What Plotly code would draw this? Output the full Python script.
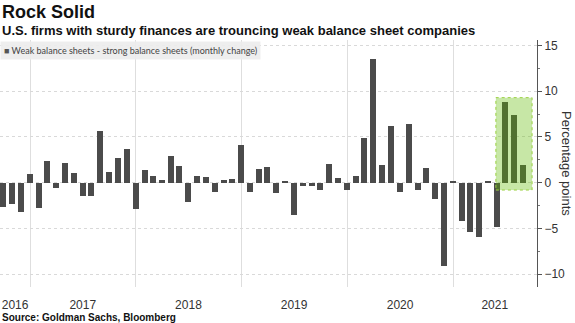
import plotly.graph_objects as go
import pandas as pd

# ---------------- data ----------------
months = pd.date_range("2016-10-01", periods=60, freq="MS")
values = [
    -2.6, -2.3, -3.2, 1.0, -2.8, 2.35, -0.6, 2.15, 1.1, -1.45, -1.5, 5.7,
    1.2, 2.7, 3.65, -2.9, 1.35, 0.7, 0.25, 2.95, 1.8, -2.1, 0.7, 0.6,
    -1.05, 0.35, 0.45, 4.1, -1.0, 1.45, 1.7, -1.15, 0.2, -3.55, -0.35, -0.4,
    -0.8, 2.0, 0.5, -0.75, 0.75, 4.85, 13.5, 1.95, 6.15, -1.05, 6.45, -0.85,
    1.65, -1.8, -9.05, 0.15, -4.2, -5.4, -5.95, 0.15, -4.85, 8.85, 7.35, 1.95,
]
year_labels = ["2016", "2017", "2018", "2019", "2020", "2021"]
year_label_dates = ["2016-11-10", "2017-07-02", "2018-07-02", "2019-07-02",
                    "2020-07-02", "2021-05-25"]
year_bounds = ["2017-01-01", "2018-01-01", "2019-01-01", "2020-01-01", "2021-01-01"]
y_ticks = [-10, -5, 0, 5, 10, 15]

highlight_x = ["2021-05-29", "2021-10-01"]
highlight_y = [-0.8, 9.3]

title = "Rock Solid"
subtitle = "U.S. firms with sturdy finances are trouncing weak balance sheet companies"
series_name = "Weak balance sheets - strong balance sheets (monthly change)"
source = "Source: Goldman Sachs, Bloomberg"

# ---------------- figure ----------------
BAR = "#4b4b4b"
MONTH_MS = 30.44 * 86400000

fig = go.Figure()
fig.add_trace(go.Bar(
    x=months, y=values, marker_color=BAR, marker_line_width=0,
    width=[0.68 * MONTH_MS] * len(values), name=series_name, showlegend=False,
))

fig.add_shape(type="rect", xref="x", yref="y",
              x0=highlight_x[0], x1=highlight_x[1],
              y0=highlight_y[0], y1=highlight_y[1],
              fillcolor="rgba(95,185,0,0.35)",
              line=dict(color="#9ad040", width=1, dash="dot"), layer="above")

font_main = "Liberation Sans"

fig.update_layout(
    width=575, height=323,
    margin=dict(l=0, r=38, t=40, b=36),
    paper_bgcolor="white", plot_bgcolor="white",
    bargap=0,
    font=dict(family=font_main, color="#333"),
    xaxis=dict(
        type="date",
        range=["2016-09-19", "2021-10-18"],
        tickmode="array", tickvals=year_label_dates, ticktext=year_labels,
        ticks="", showgrid=False, zeroline=False, showline=False,
        ticklabelstandoff=9,
        tickfont=dict(size=12, color="#333"),
        minor=dict(tickmode="array", tickvals=year_bounds, showgrid=True,
                   gridcolor="#dedede", gridwidth=1, ticks=""),
    ),
    yaxis=dict(
        side="right", range=[-11.4, 15.6],
        tickmode="array", tickvals=y_ticks,
        ticks="outside", ticklen=4, tickcolor="#555",
        showline=True, linecolor="#555", linewidth=1,
        showgrid=True, gridcolor="#d9d9d9", griddash="dot", gridwidth=1,
        zeroline=False,
        tickfont=dict(size=12, color="#333"),
        minor=dict(dtick=2.5, tick0=0, ticks="outside", ticklen=2,
                   tickcolor="#777", showgrid=False),
    ),
)

fig.add_annotation(text="<b>" + title + "</b>", xref="paper", yref="paper",
                   x=0, y=1, xanchor="left", yanchor="bottom", yshift=16,
                   showarrow=False, font=dict(size=18, color="#111"))
fig.add_annotation(text="<b>" + subtitle + "</b>", xref="paper", yref="paper",
                   x=0, y=1, xanchor="left", yanchor="bottom", yshift=0,
                   showarrow=False, font=dict(size=13, color="#111"))
fig.add_annotation(text="<span style='color:#555'>■</span> " + series_name,
                   xref="paper", yref="paper", x=0, y=1, xanchor="left",
                   yanchor="top", yshift=-1, showarrow=False,
                   bgcolor="rgba(236,236,236,0.9)", borderpad=3,
                   font=dict(size=9, color="#444", family="Lato"))
fig.add_annotation(text="Percentage points", xref="paper", yref="paper",
                   x=1, y=0.5, xanchor="left", yanchor="middle", xshift=20,
                   textangle=90, showarrow=False,
                   font=dict(size=13, color="#333"))
fig.add_annotation(text="<b>" + source + "</b>", xref="paper", yref="paper",
                   x=0, y=0, xanchor="left", yanchor="top", yshift=-23,
                   showarrow=False, font=dict(size=10, color="#111"))

fig.write_html("out.html")
